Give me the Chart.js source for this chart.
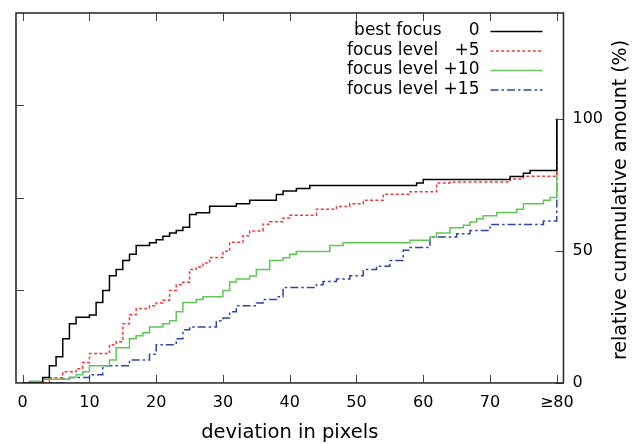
<!DOCTYPE html>
<html>
<head>
<meta charset="utf-8">
<script src="https://cdn.jsdelivr.net/npm/chart.js@4.4.0/dist/chart.umd.min.js"></script>
<style>
html, body { margin: 0; padding: 0; background: #fff; }
#wrap { width: 640px; height: 444px; }
</style>
</head>
<body>
<div id="wrap"><canvas id="chart" width="640" height="444"></canvas></div>
<script>
// axis ticks
const xTicks = [0, 10, 20, 30, 40, 50, 60, 70, 80];
const yTicks = [0, 50, 100];
const leftTicks = [35, 70, 105];
const seriesLabels = ['best focus     0', 'focus level   +5', 'focus level +10', 'focus level +15'];

// step positions (deviation in px) and cumulative % reached at each step
const bestX = [0, 3, 4, 5, 6, 7, 8, 10, 11, 12, 13, 14, 15, 16, 17, 19, 20, 21, 22, 23, 24, 25, 26, 28, 32, 34, 38, 39, 41, 43, 59, 60, 73, 75, 76, 80];
const bestY = [0, 2.1, 6.5, 9.9, 16.7, 22.4, 24.9, 25.7, 30.4, 35, 40.6, 42.9, 46.3, 48.7, 52, 53.1, 54.2, 55.5, 56.7, 57.7, 58.9, 63.7, 64.4, 66.9, 67.8, 69.1, 71.3, 72.6, 73.6, 74.7, 75.7, 77, 78.1, 79.4, 80.4, 100];

const plus5X = [0, 4, 6, 8, 9, 10, 13, 14, 15, 16, 17, 19, 20, 21, 22, 23, 24, 25, 26, 27, 28, 30, 31, 33, 34, 36, 37, 39, 40, 44, 47, 49, 51, 54, 58, 62, 64, 73, 75, 80];
const plus5Y = [0, 2, 4.2, 5.4, 7.7, 11.1, 14.5, 15.6, 22.4, 25.8, 28.2, 29.2, 30.3, 31.3, 35, 37.2, 38.1, 42.9, 43.9, 45.4, 47.5, 49.8, 53.2, 55.7, 57.5, 60.1, 61, 62.4, 63.5, 65.7, 66.8, 67.8, 69.1, 71.4, 72.4, 75.7, 76, 77.2, 78.2, 100];

const plus10X = [0, 1, 3, 7, 8, 9, 10, 13, 14, 16, 17, 18, 19, 21, 22, 23, 24, 26, 27, 30, 31, 32, 34, 35, 37, 39, 40, 41, 46, 48, 58, 61, 62, 64, 66, 67, 68, 69, 71, 74, 75, 78, 79, 80];
const plus10Y = [0, 0.6, 1.4, 2.1, 3.1, 4.2, 6.5, 8.7, 13.3, 16.7, 17.9, 19, 21.2, 22.4, 23.5, 26.9, 30.4, 31.6, 32.6, 35, 38.2, 39.3, 40.5, 42.9, 46.3, 47.4, 48.7, 49.7, 52, 53.1, 54, 55.2, 56.7, 58.7, 59.7, 60.9, 62.1, 63.3, 64.5, 65.7, 67.8, 69.1, 70.2, 100];

const plus15X = [0, 6, 7, 10, 12, 16, 19, 20, 23, 24, 25, 29, 30, 31, 32, 35, 36, 38, 39, 44, 45, 47, 49, 51, 53, 55, 57, 58, 61, 65, 67, 70, 78, 80];
const plus15Y = [0, 1.5, 2.1, 3.1, 6.5, 8.7, 10.9, 14.5, 16.7, 20.1, 21.2, 23.5, 24.6, 26.9, 29.2, 30.3, 31.6, 32.6, 36.1, 37.2, 38.4, 39.3, 40.6, 42.9, 44.2, 46.3, 50.2, 51.3, 55.2, 56.5, 57.7, 60, 61.3, 100];

const FONT = 'DejaVu Sans';

function pts(xs, ys) {
    return xs.map((x, i) => ({ x: x, y: ys[i] }));
}

// frame, inward ticks, legend and right-hand title
const decor = {
    id: 'decor',
    afterDatasetsDraw(chart) {
        const ctx = chart.ctx;
        const a = chart.chartArea;
        const xs = chart.scales.x, ys = chart.scales.y;
        const tl = 8;
        ctx.save();
        ctx.strokeStyle = '#444';
        ctx.lineWidth = 1;
        ctx.beginPath();
        xTicks.forEach(v => {
            const px = Math.round(xs.getPixelForValue(v)) + 0.5;
            ctx.moveTo(px, a.bottom); ctx.lineTo(px, a.bottom - tl);
            ctx.moveTo(px, a.top); ctx.lineTo(px, a.top + tl);
        });
        yTicks.forEach(v => {
            const py = Math.round(ys.getPixelForValue(v)) + 0.5;
            ctx.moveTo(a.right, py); ctx.lineTo(a.right - tl, py);
        });
        leftTicks.forEach(v => {
            const py = Math.round(ys.getPixelForValue(v)) + 0.5;
            ctx.moveTo(a.left, py); ctx.lineTo(a.left + tl, py);
        });
        ctx.stroke();

        ctx.strokeStyle = '#222';
        ctx.lineWidth = 1.5;
        ctx.strokeRect(a.left, a.top, a.right - a.left, a.bottom - a.top);

        // legend
        ctx.font = '17px "' + FONT + '"';
        ctx.textAlign = 'right';
        ctx.textBaseline = 'middle';
        chart.data.datasets.forEach((ds, i) => {
            const y = a.top + 18 + i * 19.5;
            ctx.fillStyle = '#000';
            ctx.fillText(ds.label, a.right - 84, y);
            ctx.strokeStyle = ds.borderColor;
            ctx.lineWidth = ds.borderWidth;
            ctx.setLineDash(ds.borderDash || []);
            ctx.beginPath();
            ctx.moveTo(a.right - 73, y + 0.5);
            ctx.lineTo(a.right - 21, y + 0.5);
            ctx.stroke();
            ctx.setLineDash([]);
        });

        // right axis title, reading bottom to top
        ctx.translate(621, (a.top + a.bottom) / 2 + 2);
        ctx.rotate(-Math.PI / 2);
        ctx.textAlign = 'center';
        ctx.fillStyle = '#000';
        ctx.font = '19px "' + FONT + '"';
        ctx.fillText('relative cummulative amount (%)', 0, 0);
        ctx.restore();
    }
};

new Chart(document.getElementById('chart'), {
    type: 'line',
    data: {
        datasets: [
            { label: seriesLabels[0], data: pts(bestX, bestY), borderColor: '#000000', borderWidth: 1.5 },
            { label: seriesLabels[1], data: pts(plus5X, plus5Y), borderColor: '#ee3b3b', borderWidth: 1.5, borderDash: [3, 2.3] },
            { label: seriesLabels[2], data: pts(plus10X, plus10Y), borderColor: '#62c656', borderWidth: 1.5 },
            { label: seriesLabels[3], data: pts(plus15X, plus15Y), borderColor: '#2f44a8', borderWidth: 1.5, borderDash: [8, 3, 2.5, 3] }
        ]
    },
    options: {
        responsive: false,
        animation: false,
        elements: {
            point: { radius: 0 },
            line: { stepped: true, fill: false }
        },
        layout: { padding: { left: 16, top: 13, right: 28, bottom: 0 } },
        plugins: {
            legend: { display: false },
            tooltip: { enabled: false }
        },
        scales: {
            x: {
                type: 'linear',
                min: -1,
                max: 81,
                afterBuildTicks: s => { s.ticks = xTicks.map(v => ({ value: v })); },
                afterFit: s => { s.paddingLeft = 0; s.paddingRight = 0; },
                grid: { display: false, drawTicks: false },
                border: { display: false },
                ticks: {
                    color: '#000',
                    padding: 10,
                    maxRotation: 0,
                    autoSkip: false,
                    font: { family: FONT, size: 16 },
                    callback: v => (v === 80 ? '≥80' : String(v))
                },
                title: {
                    display: true,
                    text: 'deviation in pixels',
                    color: '#000',
                    font: { family: FONT, size: 19.5, lineHeight: 1.1 },
                    padding: { top: 0, bottom: 0.4 }
                }
            },
            y: {
                type: 'linear',
                position: 'right',
                min: 0,
                max: 140,
                afterBuildTicks: s => { s.ticks = yTicks.map(v => ({ value: v })); },
                afterFit: s => { s.paddingTop = 0; s.paddingBottom = 0; },
                grid: { display: false, drawTicks: false },
                border: { display: false },
                ticks: {
                    color: '#000',
                    padding: 9,
                    font: { family: FONT, size: 16 }
                }
            }
        }
    },
    plugins: [decor]
});
</script>
</body>
</html>
